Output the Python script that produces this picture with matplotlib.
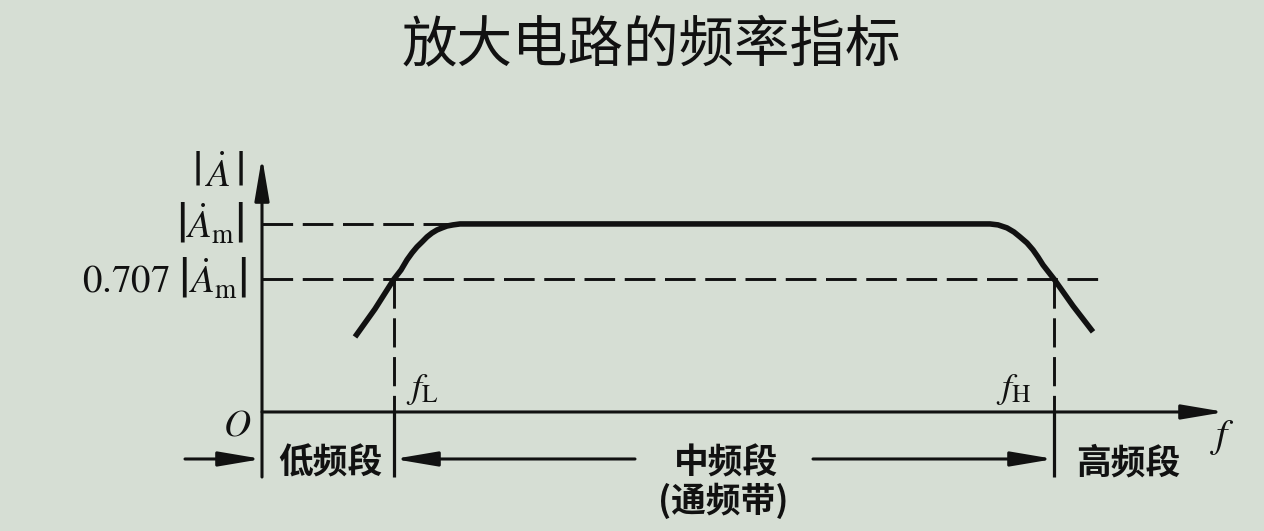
import matplotlib
matplotlib.use('Agg')
from matplotlib import pyplot as plt

plt.rcParams['font.family'] = ['Noto Sans CJK SC', 'DejaVu Sans']
plt.rcParams['mathtext.fontset'] = 'stix'

# frequency response (f in arbitrary units, gain relative to |Am|)
curve_f = [93, 113, 132, 139, 145, 150, 155, 160, 165, 170, 175, 180, 185, 191, 198,
           728, 736, 745, 752, 758, 765, 771, 776, 781, 792, 811, 831]
curve_gain = [0.399, 0.548, 0.707, 0.755, 0.809, 0.846, 0.878, 0.904, 0.931, 0.952,
              0.968, 0.979, 0.989, 0.995, 1.0,
              1.0, 0.995, 0.979, 0.957, 0.931, 0.899, 0.862, 0.824, 0.782, 0.707,
              0.564, 0.426]

f_L = 132
f_H = 792
gain_m = 1.0
gain_cut = 0.707

title = '放大电路的频率指标'
band_labels = ['低频段', '中频段', '高频段']
band_note = '(通频带)'

BG = '#d6ded4'
INK = '#111111'


def main():
    fig = plt.figure(figsize=(12.64, 5.31), dpi=100, facecolor=BG)
    ax = fig.add_axes([0, 0, 1, 1])
    ax.set_facecolor(BG)
    ax.set_xlim(-262, 1002)
    ax.set_ylim(-0.633, 2.191)
    ax.axis('off')

    arrow = dict(arrowstyle='-|>,head_length=1.3,head_width=0.22', mutation_scale=20,
                 color=INK, lw=2.2, shrinkA=0, shrinkB=0)
    y_top = 1.356
    f_end = 963
    y_low = -0.346
    y_row = -0.25

    # axes
    ax.annotate('', xy=(0, y_top), xytext=(0, y_low), arrowprops=arrow)
    ax.annotate('', xy=(f_end, 0), xytext=(0, 0), arrowprops=arrow)

    # reference levels
    dash = (0, (10.5, 3.3))
    ax.plot([0, 200], [gain_m, gain_m], color=INK, lw=2.1, ls=dash)
    ax.plot([0, 843], [gain_cut, gain_cut], color=INK, lw=2.1, ls=dash)
    for f in (f_L, f_H):
        ax.plot([f, f], [gain_cut, 0], color=INK, lw=2.1, ls=(0, (10, 3.3)))
        ax.plot([f, f], [0, y_low], color=INK, lw=2.3, solid_capstyle='butt')

    # response curve
    ax.plot(curve_f, curve_gain, color=INK, lw=4, solid_joinstyle='round',
            solid_capstyle='butt')

    # band arrows
    ax.annotate('', xy=(0, y_row), xytext=(-77, y_row), arrowprops=arrow)
    ax.annotate('', xy=(f_L, y_row), xytext=(373, y_row), arrowprops=arrow)
    ax.annotate('', xy=(f_H, y_row), xytext=(551, y_row), arrowprops=arrow)

    # texts
    fig.text(0.515, 0.915, title, fontsize=40, ha='center', va='center', color=INK)
    lab = dict(fontsize=25, fontweight='bold', ha='center', va='center', color=INK)
    ax.text((0 + f_L) / 2 + 2, -0.27, band_labels[0], **lab)
    ax.text(464, -0.27, band_labels[1], **lab)
    ax.text(461, -0.47, band_note, **lab)
    ax.text(866, -0.27, band_labels[2], **lab)

    math = dict(fontsize=28, ha='right', va='center', color=INK)
    ax.text(-18, 1.26, r'$\left|\,\dot{A}\,\right|$', **math)
    ax.text(-18, gain_m, r'$\left|\dot{A}_{\mathrm{m}}\right|$', **math)
    ax.text(-15, gain_cut, r'$0.707\ \left|\dot{A}_{\mathrm{m}}\right|$', **math)
    ax.text(-25, -0.07, r'$O$', fontsize=27, ha='center', va='center', color=INK)
    ax.text(960, -0.13, r'$f$', fontsize=29, ha='center', va='center', color=INK)
    ax.text(f_L + 12, 0.12, r'$f_{\mathrm{L}}$', fontsize=26, ha='left', va='center', color=INK)
    ax.text(f_H - 58, 0.12, r'$f_{\mathrm{H}}$', fontsize=26, ha='left', va='center', color=INK)

    fig.savefig('out.png', dpi=100, facecolor=BG)


if __name__ == '__main__':
    main()
